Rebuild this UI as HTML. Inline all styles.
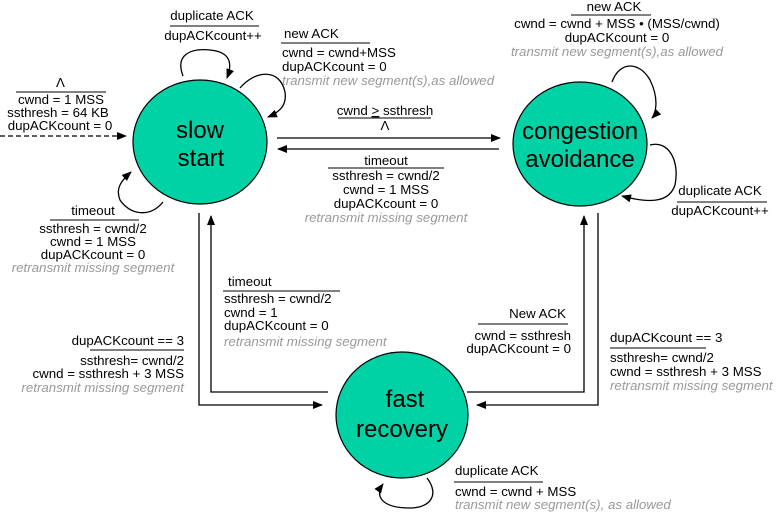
<!DOCTYPE html>
<html><head><meta charset="utf-8"><style>
body{margin:0;background:#fff}
svg{display:block}
text{font-family:"Liberation Sans",Arial,sans-serif;font-size:13.3px;fill:#000}
.g{fill:#999;font-style:italic}
.big{font-size:24px}
</style></head><body>
<svg width="777" height="517" viewBox="0 0 777 517" xmlns="http://www.w3.org/2000/svg">
<defs><marker id="a" markerWidth="10" markerHeight="8" refX="9" refY="4" orient="auto" markerUnits="userSpaceOnUse"><path d="M0,0 L10,4 L0,8 z" fill="#000"/></marker></defs>
<g fill="#00d2a6" stroke="#000" stroke-width="1.2">
<ellipse cx="200" cy="142" rx="67" ry="62"/>
<ellipse cx="580" cy="144" rx="67" ry="62"/>
<ellipse cx="402" cy="415" rx="66" ry="63"/>
</g>
<g text-anchor="middle">
<text x="200" y="138" class="big">slow</text><text x="201" y="166" class="big">start</text>
<text x="580" y="139" class="big">congestion</text><text x="580" y="167" class="big">avoidance</text>
<text x="405" y="407" class="big">fast</text><text x="402" y="437" class="big">recovery</text>
</g>
<g stroke="#000" stroke-width="1.3" fill="none">
<line x1="0" y1="136" x2="126" y2="136" stroke-dasharray="5,3" marker-end="url(#a)"/>
<line x1="277" y1="138" x2="500" y2="138" marker-end="url(#a)"/>
<line x1="499" y1="149" x2="278" y2="149" marker-end="url(#a)"/>
<polyline points="199,213 199,405 322,405" marker-end="url(#a)"/>
<polyline points="328,392 211,392 211,216" marker-end="url(#a)"/>
<polyline points="467,392 584,392 584,216" marker-end="url(#a)"/>
<polyline points="598,213 598,405 477,405" marker-end="url(#a)"/>
<path d="M183,76 C175,55 190,48 210,50 C232,52 232,65 227,78" marker-end="url(#a)"/>
<path d="M240,88 C255,70 280,68 285,92 C287,105 280,112 268,117" marker-end="url(#a)"/>
<path d="M163,202 C150,218 130,215 120,200 C115,188 122,180 131,172" marker-end="url(#a)"/>
<path d="M612,82 C620,60 640,62 650,80 C660,100 655,115 652,118" marker-end="url(#a)"/>
<path d="M650,145 C668,140 680,160 675,185 C670,200 655,205 622,196" marker-end="url(#a)"/>
<path d="M427,478 C440,495 430,508 410,508 C380,508 375,495 383,484" marker-end="url(#a)"/>
</g>
<g stroke="#000" stroke-width="1">
<line x1="16" y1="92" x2="106" y2="92"/>
<line x1="170" y1="26" x2="259" y2="26"/>
<line x1="281" y1="43" x2="370" y2="43"/>
<line x1="571" y1="15" x2="651" y2="15"/>
<line x1="338" y1="118" x2="431" y2="118"/>
<line x1="328" y1="168" x2="444" y2="168"/>
<line x1="50" y1="220" x2="139" y2="220"/>
<line x1="677" y1="202" x2="767" y2="202"/>
<line x1="223" y1="291" x2="340" y2="291"/>
<line x1="478" y1="324" x2="568" y2="324"/>
<line x1="90" y1="350" x2="184" y2="350"/>
<line x1="610" y1="348" x2="706" y2="348"/>
<line x1="454" y1="482" x2="543" y2="482"/>
</g>
<text x="56" y="87">Λ</text>
<text x="61" y="104" text-anchor="middle">cwnd = 1 MSS</text>
<text x="58" y="117" text-anchor="middle">ssthresh = 64 KB</text>
<text x="60" y="130" text-anchor="middle">dupACKcount = 0</text>
<text x="212" y="20" text-anchor="middle">duplicate ACK</text>
<text x="213" y="40" text-anchor="middle">dupACKcount++</text>
<text x="284" y="38">new ACK</text>
<text x="282" y="57">cwnd = cwnd+MSS</text>
<text x="282" y="71">dupACKcount = 0</text>
<text x="282" y="85" class="g">transmit new segment(s),as allowed</text>
<text x="614" y="11" text-anchor="middle">new ACK</text>
<text x="617" y="28" text-anchor="middle">cwnd = cwnd + MSS • (MSS/cwnd)</text>
<text x="617" y="42" text-anchor="middle">dupACKcount = 0</text>
<text x="617" y="56" class="g" text-anchor="middle">transmit new segment(s),as allowed</text>
<text x="385" y="115" text-anchor="middle">cwnd <tspan text-decoration="underline">&gt;</tspan> ssthresh</text>
<text x="385" y="130" text-anchor="middle">Λ</text>
<text x="386" y="165" text-anchor="middle">timeout</text>
<text x="386" y="180" text-anchor="middle">ssthresh = cwnd/2</text>
<text x="386" y="194" text-anchor="middle">cwnd = 1 MSS</text>
<text x="386" y="208" text-anchor="middle">dupACKcount = 0</text>
<text x="386" y="222" class="g" text-anchor="middle">retransmit missing segment</text>
<text x="93" y="215" text-anchor="middle">timeout</text>
<text x="93" y="233" text-anchor="middle">ssthresh = cwnd/2</text>
<text x="93" y="246" text-anchor="middle">cwnd = 1 MSS</text>
<text x="93" y="259" text-anchor="middle">dupACKcount = 0</text>
<text x="93" y="272" class="g" text-anchor="middle">retransmit missing segment</text>
<text x="720" y="195" text-anchor="middle">duplicate ACK</text>
<text x="720" y="215" text-anchor="middle">dupACKcount++</text>
<text x="228" y="286">timeout</text>
<text x="224" y="303">ssthresh = cwnd/2</text>
<text x="224" y="317">cwnd = 1</text>
<text x="224" y="330">dupACKcount = 0</text>
<text x="224" y="346" class="g">retransmit missing segment</text>
<text x="566" y="318" text-anchor="end">New ACK</text>
<text x="571" y="340" text-anchor="end">cwnd = ssthresh</text>
<text x="571" y="353" text-anchor="end">dupACKcount = 0</text>
<text x="184" y="345" text-anchor="end">dupACKcount == 3</text>
<text x="184" y="365" text-anchor="end">ssthresh= cwnd/2</text>
<text x="184" y="378" text-anchor="end">cwnd = ssthresh + 3 MSS</text>
<text x="184" y="392" class="g" text-anchor="end">retransmit missing segment</text>
<text x="610" y="342">dupACKcount == 3</text>
<text x="610" y="362">ssthresh= cwnd/2</text>
<text x="610" y="376">cwnd = ssthresh + 3 MSS</text>
<text x="610" y="390" class="g">retransmit missing segment</text>
<text x="455" y="475">duplicate ACK</text>
<text x="455" y="496">cwnd = cwnd + MSS</text>
<text x="455" y="509" class="g">transmit new segment(s), as allowed</text>
</svg>
</body></html>
